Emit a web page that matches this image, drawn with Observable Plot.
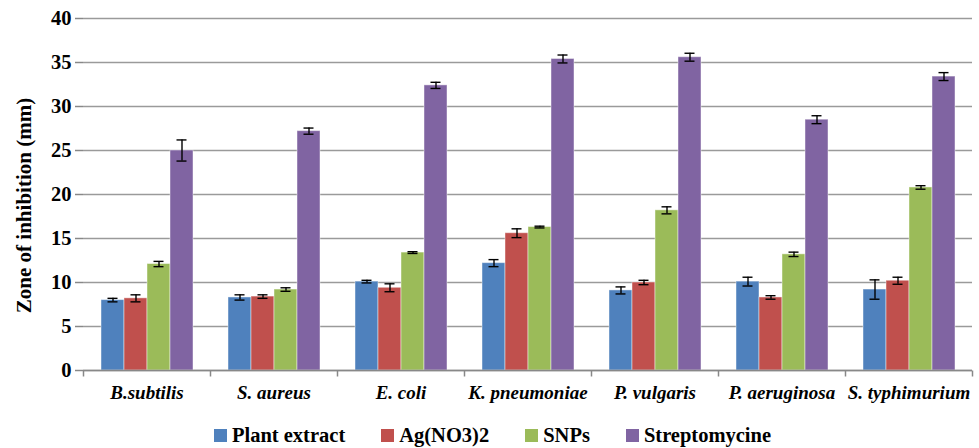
<!DOCTYPE html>
<html>
<head>
<meta charset="utf-8">
<script src="https://cdn.jsdelivr.net/npm/d3@7"></script>
<script src="https://cdn.jsdelivr.net/npm/@observablehq/plot@0.6"></script>
<style>
  html, body { margin: 0; padding: 0; background: #fff; }
  #chart { width: 979px; }
  .legend { display: flex; justify-content: center; align-items: center; height: 27px; padding-top: 7px;
    font-family: 'Liberation Serif'; font-weight: bold; font-size: 20.5px; color: #000; padding-left: 6px; }
  .legend .item { display: flex; align-items: center; margin: 0 18px; }
  .legend .sw { width: 13px; height: 13px; margin-right: 5px; display: inline-block; }
</style>
</head>
<body>
<div id="chart"></div>
<script>
const categories = ["B.subtilis", "S. aureus", "E. coli", "K. pneumoniae", "P. vulgaris", "P. aeruginosa", "S. typhimurium"];
const seriesNames = ["Plant extract", "Ag(NO3)2", "SNPs", "Streptomycine"];
const colors = ["#4F81BD", "#C0504D", "#9BBB59", "#8064A2"];

const plantExtract = [8.0, 8.3, 10.1, 12.2, 9.1, 10.1, 9.2];
const agNO3 = [8.2, 8.4, 9.4, 15.6, 10.0, 8.3, 10.2];
const snps = [12.1, 9.2, 13.4, 16.3, 18.2, 13.2, 20.8];
const streptomycine = [25.0, 27.2, 32.4, 35.4, 35.6, 28.5, 33.4];

const errPlant = [0.2, 0.3, 0.15, 0.4, 0.4, 0.5, 1.1];
const errAg = [0.4, 0.2, 0.45, 0.5, 0.25, 0.2, 0.4];
const errSnps = [0.3, 0.2, 0.1, 0.1, 0.4, 0.25, 0.2];
const errStrep = [1.2, 0.35, 0.35, 0.45, 0.45, 0.45, 0.45];

const yTicks = [0, 5, 10, 15, 20, 25, 30, 35, 40];
const yLabel = "Zone of inhibition (mm)";

const valueSets = [plantExtract, agNO3, snps, streptomycine];
const errSets = [errPlant, errAg, errSnps, errStrep];
const data = [];
categories.forEach((c, i) => {
  seriesNames.forEach((s, j) => {
    data.push({category: c, series: s, value: valueSets[j][i], err: errSets[j][i]});
  });
});

const tickSymbol = { draw(ctx) { ctx.moveTo(0, 0); ctx.lineTo(0, 6); } };

const chart = Plot.plot({
  width: 979,
  height: 415,
  marginLeft: 82,
  marginRight: 7,
  marginTop: 18,
  marginBottom: 45,
  style: { fontFamily: "Liberation Serif", fontWeight: "bold", color: "#000", background: "#fff" },
  fx: { domain: categories, padding: 0, label: null },
  x: { domain: seriesNames, paddingInner: 0, paddingOuter: 0.76, axis: null },
  y: { domain: [0, 40] },
  color: { domain: seriesNames, range: colors },
  marks: [
    Plot.gridY(yTicks, { stroke: "#9a9a9a", strokeOpacity: 1, strokeWidth: 1.3 }),
    Plot.barY(data, { fx: "category", x: "series", y: "value", fill: "series", stroke: "#ffffff", strokeOpacity: 0.45, strokeWidth: 1 }),
    Plot.ruleX(data, { fx: "category", x: "series", y1: d => d.value - d.err, y2: d => d.value + d.err, stroke: "#000", strokeWidth: 1.4 }),
    Plot.tickY(data, { fx: "category", x: "series", y: d => d.value + d.err, stroke: "#000", strokeWidth: 1.4, insetLeft: 6.5, insetRight: 6.5 }),
    Plot.tickY(data, { fx: "category", x: "series", y: d => d.value - d.err, stroke: "#000", strokeWidth: 1.4, insetLeft: 6.5, insetRight: 6.5 }),
    Plot.ruleY([0], { stroke: "#888", strokeWidth: 1.5 }),
    Plot.dot(categories, { fx: d => d, frameAnchor: "bottom-left", symbol: tickSymbol, stroke: "#888", strokeWidth: 1.5, r: 3 }),
    Plot.dot(categories.slice(-1), { fx: d => d, frameAnchor: "bottom-right", symbol: tickSymbol, stroke: "#888", strokeWidth: 1.5, r: 3 }),
    Plot.axisY(yTicks, {
      anchor: "left", tickSize: 8, tickPadding: 4, fontSize: 20.5, stroke: "#888", strokeWidth: 1.5, label: null
    }),
    Plot.text([yLabel], { facetAnchor: "left", frameAnchor: "left", text: d => d, rotate: -90, textAnchor: "middle", lineAnchor: "middle", dx: -59, dy: 11, fontSize: 21, fontWeight: "bold", fill: "#000" }),
    Plot.ruleX([0], { facetAnchor: "left", frameAnchor: "left", stroke: "#888", strokeWidth: 1.5 }),
    Plot.axisFx({ anchor: "bottom", tickSize: 0, tickPadding: 15, fontSize: 19, fontStyle: "italic", label: null })
  ]
});

document.getElementById("chart").appendChild(chart);

const legend = document.createElement("div");
legend.className = "legend";
seriesNames.forEach((s, i) => {
  const item = document.createElement("span");
  item.className = "item";
  const sw = document.createElement("span");
  sw.className = "sw";
  sw.style.background = colors[i];
  item.appendChild(sw);
  item.appendChild(document.createTextNode(s));
  legend.appendChild(item);
});
document.getElementById("chart").appendChild(legend);
</script>
</body>
</html>
